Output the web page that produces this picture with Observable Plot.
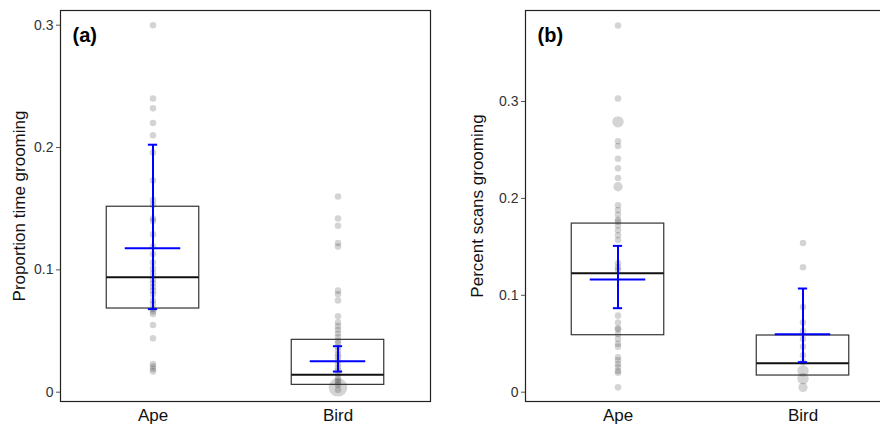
<!DOCTYPE html>
<html>
<head>
<meta charset="utf-8">
<script src="https://cdn.jsdelivr.net/npm/d3@7"></script>
<script src="https://cdn.jsdelivr.net/npm/@observablehq/plot@0.6"></script>
<style>
  html, body { margin: 0; padding: 0; background: #fff; overflow: hidden; }
  #wrap { width: 880px; height: 424px; overflow: hidden; display: flex; position: relative; }
  #wrap > div { flex: none; }
  svg { font-family: Arial, "Liberation Sans", sans-serif; }
  svg g[aria-label="y-axis tick label"] { font-size: 14px; }
  svg g[aria-label="y-axis tick label"] text { fill: #333; }
  svg g[aria-label="x-axis tick label"] { font-size: 17px; }
  svg g[aria-label="x-axis tick label"] text { fill: #111; }
</style>
</head>
<body>
<div id="wrap"><div id="pa"></div><div id="pb"></div></div>
<script>
const categories = ["Ape", "Bird"];
const yTicks = [0, 0.1, 0.2, 0.3];

// Panel (a): proportion time grooming
const apeA = [0.300, 0.240, 0.232, 0.220, 0.210, 0.196, 0.173, 0.157, 0.153, 0.142, 0.140, 0.129, 0.119, 0.113, 0.106, 0.101, 0.097, 0.092, 0.089, 0.086, 0.083, 0.080, 0.075, 0.072, 0.068, 0.066, 0.064, 0.055, 0.044, 0.023, 0.021, 0.019, 0.017];
const apeA_n = apeA.map(() => 1);
const birdA = [0.160, 0.142, 0.136, 0.122, 0.119, 0.083, 0.080, 0.075, 0.062, 0.057, 0.054, 0.051, 0.048, 0.045, 0.042, 0.040, 0.037, 0.034, 0.031, 0.029, 0.026, 0.023, 0.020, 0.018, 0.015, 0.012, 0.010, 0.008, 0.006, 0.004, 0.002];
const birdA_n = [1,1,1,1,1,1,1,1,1,1,1,1,1,1,1,1,1,1,1,1,1,1,1,1,1,1,1,1,1,8,1];
const q1A = [0.0684, 0.0060];
const medA = [0.0940, 0.0142];
const q3A = [0.1516, 0.0428];
const meanA = [0.1177, 0.0253];
const loA = [0.0679, 0.0169];
const hiA = [0.2023, 0.0376];

// Panel (b): percent scans grooming
const apeB = [0.3785, 0.303, 0.279, 0.259, 0.254, 0.241, 0.231, 0.221, 0.212, 0.193, 0.188, 0.183, 0.178, 0.176, 0.172, 0.167, 0.162, 0.157, 0.133, 0.129, 0.126, 0.079, 0.072, 0.066, 0.065, 0.060, 0.055, 0.050, 0.047, 0.036, 0.033, 0.029, 0.026, 0.022, 0.020, 0.005];
const apeB_n = [1,1,3,1,1,1,1,1,2,1,1,1,1,1,1,1,1,1,1,1,1,1,1,1,1,1,1,1,1,1,1,1,1,1,1,1];
const birdB = [0.154, 0.129, 0.088, 0.072, 0.063, 0.055, 0.047, 0.038, 0.031, 0.022, 0.014, 0.005];
const birdB_n = [1,1,1,1,1,1,1,1,1,3,3,2];
const q1B = [0.0588, 0.0172];
const medB = [0.1228, 0.0299];
const q3B = [0.1740, 0.0585];
const meanB = [0.1163, 0.0599];
const loB = [0.0867, 0.0310];
const hiB = [0.1510, 0.1070];

function makePanel({label, tag, ape, apeN, bird, birdN, q1, med, q3, mean, lo, hi, yDomain, width, marginLeft, marginRight, labelDx}) {
  const pts = [
    ...ape.map((v, i) => ({x: 1, y: v, n: apeN[i]})),
    ...bird.map((v, i) => ({x: 2, y: v, n: birdN[i]}))
  ];
  const stats = categories.map((c, i) => ({
    x: i + 1, q1: q1[i], med: med[i], q3: q3[i], mean: mean[i], lo: lo[i], hi: hi[i]
  }));
  return Plot.plot({
    width, height: 424,
    marginLeft, marginRight, marginTop: 10, marginBottom: 23,
    x: {domain: [0.5, 2.5]},
    y: {domain: yDomain},
    r: {type: "sqrt", domain: [0, 8], range: [0, 9.3]},
    style: {fontFamily: "Arial, 'Liberation Sans', sans-serif", background: "#fff", fontSize: "14px"},
    marks: [
      Plot.dot(pts, {x: "x", y: "y", r: "n", fill: "black", fillOpacity: 0.17, stroke: "none"}),
      Plot.rect(stats, {x1: d => d.x - 0.25, x2: d => d.x + 0.25, y1: "q1", y2: "q3", fill: "none", stroke: "#333", strokeWidth: 1.2}),
      Plot.ruleY(stats, {x1: d => d.x - 0.25, x2: d => d.x + 0.25, y: "med", stroke: "#111", strokeWidth: 2}),
      Plot.ruleX(stats, {x: "x", y1: "lo", y2: "hi", stroke: "#0000ff", strokeWidth: 2}),
      Plot.ruleY(stats, {x1: d => d.x - 0.025, x2: d => d.x + 0.025, y: "lo", stroke: "#0000ff", strokeWidth: 2}),
      Plot.ruleY(stats, {x1: d => d.x - 0.025, x2: d => d.x + 0.025, y: "hi", stroke: "#0000ff", strokeWidth: 2}),
      Plot.ruleY(stats, {x1: d => d.x - 0.15, x2: d => d.x + 0.15, y: "mean", stroke: "#0000ff", strokeWidth: 2}),
      Plot.frame({stroke: "#222", strokeWidth: 1.2}),
      Plot.axisY({ticks: yTicks, tickFormat: d => d === 0 ? "0" : d3.format(".1f")(d), tickSize: 4, tickPadding: 3, fontSize: 14, stroke: "#555", label: null}),
      Plot.axisX({ticks: [1, 2], tickFormat: d => categories[d - 1], tickSize: 0, tickPadding: 7, fontSize: 17, label: null}),
      Plot.text([label], {frameAnchor: "left", rotate: -90, dx: labelDx, text: d => d, fontSize: 17, fill: "#111", lineAnchor: "middle", textAnchor: "middle"}),
      Plot.text([tag], {frameAnchor: "top-left", dx: 12, dy: 25, text: d => d, fontSize: 20, fontWeight: "bold", fill: "#000", textAnchor: "start", lineAnchor: "middle"})
    ]
  });
}

document.getElementById("pa").append(makePanel({
  label: "Proportion time grooming", tag: "(a)",
  ape: apeA, apeN: apeA_n, bird: birdA, birdN: birdA_n,
  q1: q1A, med: medA, q3: q3A, mean: meanA, lo: loA, hi: hiA,
  yDomain: [-0.0076, 0.3120], width: 440, marginLeft: 60, marginRight: 10, labelDx: -41
}));
document.getElementById("pb").append(makePanel({
  label: "Percent scans grooming", tag: "(b)",
  ape: apeB, apeN: apeB_n, bird: birdB, birdN: birdB_n,
  q1: q1B, med: medB, q3: q3B, mean: meanB, lo: loB, hi: hiB,
  yDomain: [-0.0096, 0.3939], width: 456, marginLeft: 85, marginRight: 1, labelDx: -48
}));
</script>
</body>
</html>
